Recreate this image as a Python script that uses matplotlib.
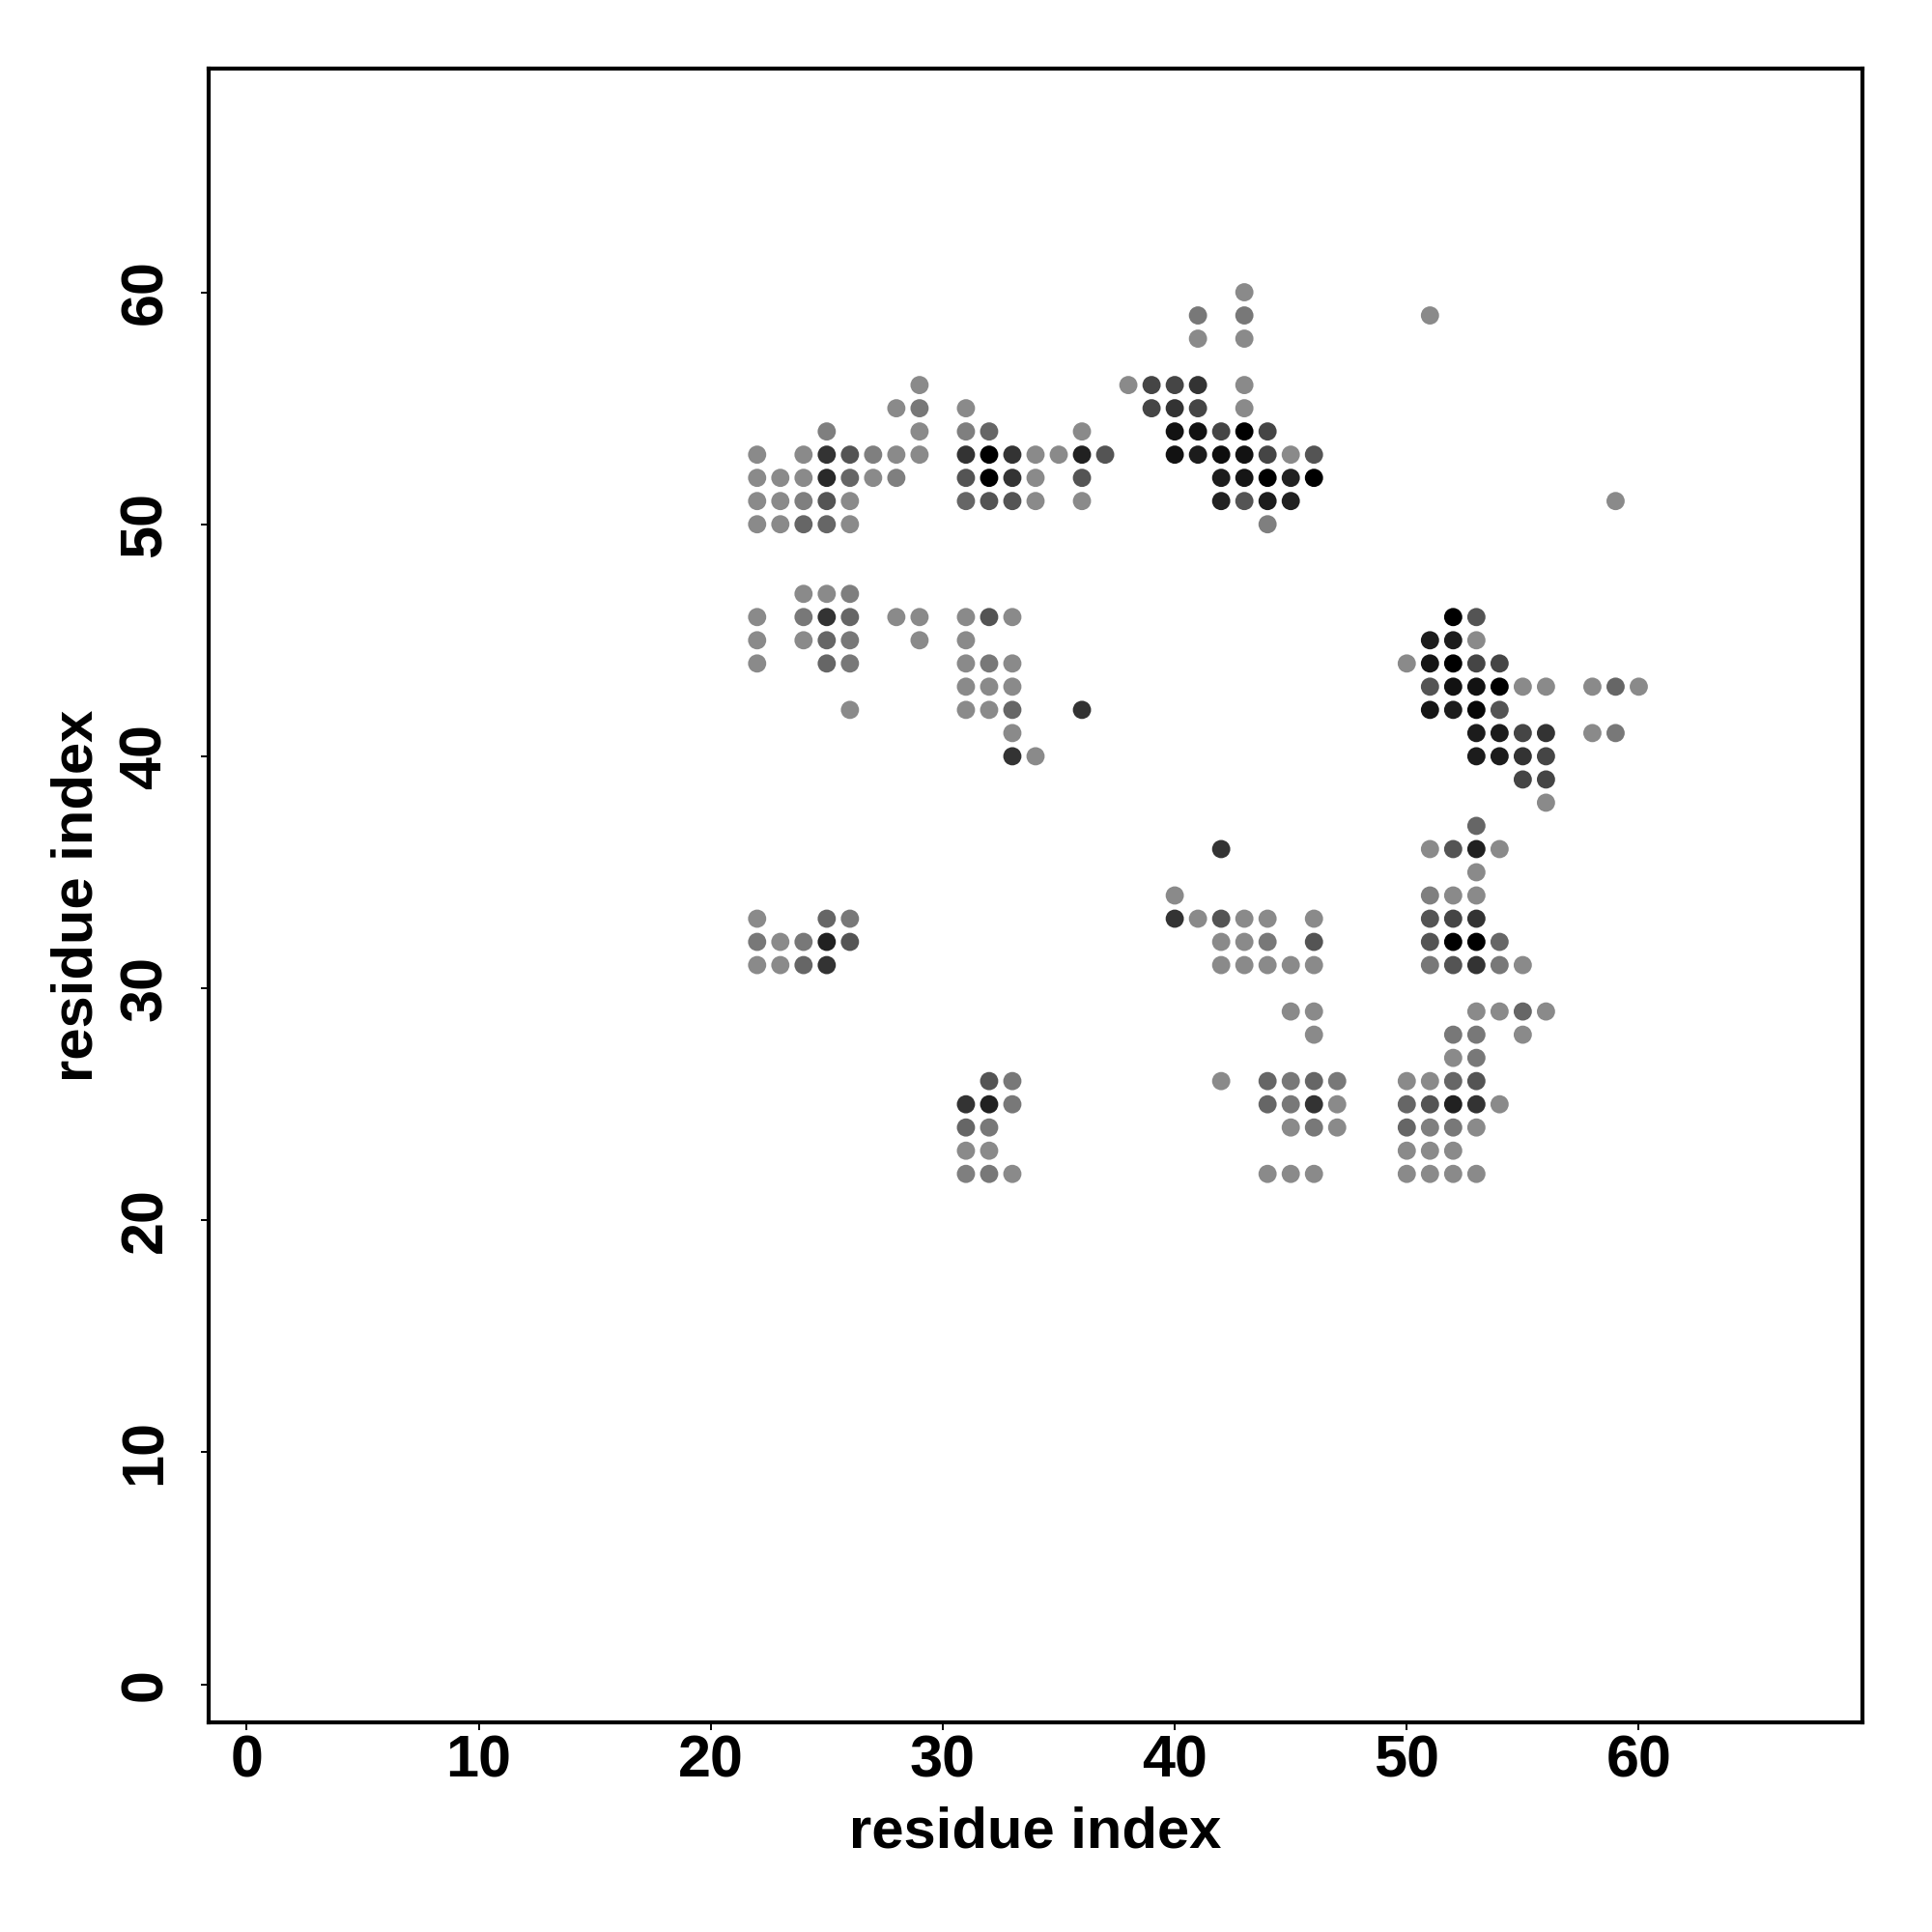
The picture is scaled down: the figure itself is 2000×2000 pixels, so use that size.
import matplotlib
matplotlib.use("Agg")
import matplotlib.pyplot as plt

plt.rcParams['font.family'] = ['Liberation Sans', 'DejaVu Sans']
plt.rcParams['font.weight'] = 'bold'

# contact map: residue i, residue j, contact strength (0 = weak, 1 = strong)
res_x = [
    43,
    41, 43, 51,
    41, 43,
    29, 38, 39, 40, 41, 43,
    28, 29, 31, 39, 40, 41, 43,
    25, 29, 31, 32, 36, 40, 41, 42, 43, 44,
    22, 24, 25, 26, 27, 28, 29, 31, 32, 33, 34, 35, 36, 37, 40, 41, 42, 43, 44, 45, 46,
    22, 23, 24, 25, 26, 27, 28, 31, 32, 33, 34, 36, 42, 43, 44, 45, 46,
    22, 23, 24, 25, 26, 31, 32, 33, 34, 36, 42, 43, 44, 45, 59,
    22, 23, 24, 25, 26, 44,
    24, 25, 26,
    22, 24, 25, 26, 28, 29, 31, 32, 33, 52, 53,
    22, 24, 25, 26, 29, 31, 51, 52, 53,
    22, 25, 26, 31, 32, 33, 50, 51, 52, 53, 54,
    31, 32, 33, 51, 52, 53, 54, 55, 56, 58, 59, 60,
    26, 31, 32, 33, 36, 51, 52, 53, 54,
    33, 53, 54, 55, 56, 58, 59,
    33, 34, 53, 54, 55, 56,
    55, 56,
    56,
    53,
    42, 51, 52, 53, 54,
    53,
    40, 51, 52, 53,
    22, 25, 26, 40, 41, 42, 43, 44, 46, 51, 52, 53,
    22, 23, 24, 25, 26, 42, 43, 44, 46, 51, 52, 53, 54,
    22, 23, 24, 25, 42, 43, 44, 45, 46, 51, 52, 53, 54, 55,
    45, 46, 53, 54, 55, 56,
    46, 52, 53, 55,
    52, 53,
    32, 33, 42, 44, 45, 46, 47, 50, 51, 52, 53,
    31, 32, 33, 44, 45, 46, 47, 50, 51, 52, 53, 54,
    31, 32, 45, 46, 47, 50, 51, 52, 53,
    31, 32, 50, 51, 52,
    31, 32, 33, 44, 45, 46, 50, 51, 52, 53,
]

res_y = (
    [60] * 1 + [59] * 3 + [58] * 2 + [56] * 6 + [55] * 7 + [54] * 10
    + [53] * 21 + [52] * 17 + [51] * 15 + [50] * 6 + [47] * 3 + [46] * 11
    + [45] * 9 + [44] * 11 + [43] * 12 + [42] * 9 + [41] * 7 + [40] * 6
    + [39] * 2 + [38] * 1 + [37] * 1 + [36] * 5 + [35] * 1 + [34] * 4
    + [33] * 12 + [32] * 13 + [31] * 14 + [29] * 6 + [28] * 4 + [27] * 2
    + [26] * 11 + [25] * 12 + [24] * 9 + [23] * 5 + [22] * 10
)

strength = [
    0.0,
    0.13, 0.13, 0.0,
    0.0, 0.0,
    0.0, 0.0, 0.5, 0.5, 0.63, 0.0,
    0.0, 0.13, 0.0, 0.5, 0.63, 0.5, 0.0,
    0.08, 0.0, 0.08, 0.26, 0.0, 0.87, 0.87, 0.5, 1.0, 0.5,
    0.0, 0.0, 0.63, 0.39, 0.08, 0.0, 0.0, 0.63, 1.0, 0.63, 0.0, 0.0, 0.76, 0.39, 0.87, 0.8, 0.9, 0.87, 0.5, 0.0, 0.39,
    0.0, 0.0, 0.0, 0.7, 0.26, 0.0, 0.08, 0.39, 1.0, 0.63, 0.0, 0.39, 0.8, 0.85, 1.0, 0.76, 1.0,
    0.0, 0.0, 0.08, 0.39, 0.0, 0.26, 0.39, 0.39, 0.0, 0.0, 0.76, 0.39, 0.8, 0.76, 0.0,
    0.0, 0.0, 0.26, 0.26, 0.0, 0.08,
    0.0, 0.0, 0.08,
    0.0, 0.13, 0.63, 0.26, 0.0, 0.0, 0.0, 0.39, 0.0, 1.0, 0.39,
    0.0, 0.0, 0.26, 0.13, 0.0, 0.0, 0.8, 0.8, 0.0,
    0.0, 0.26, 0.13, 0.0, 0.13, 0.0, 0.0, 0.85, 1.0, 0.5, 0.5,
    0.0, 0.0, 0.0, 0.39, 0.87, 0.87, 1.0, 0.0, 0.0, 0.0, 0.26, 0.0,
    0.0, 0.0, 0.0, 0.26, 0.63, 0.85, 0.8, 0.95, 0.39,
    0.0, 0.8, 0.8, 0.5, 0.63, 0.0, 0.13,
    0.63, 0.0, 0.8, 0.8, 0.63, 0.5,
    0.5, 0.5,
    0.0,
    0.26,
    0.63, 0.0, 0.39, 0.76, 0.0,
    0.0,
    0.0, 0.08, 0.0, 0.0,
    0.0, 0.26, 0.13, 0.63, 0.0, 0.39, 0.0, 0.0, 0.0, 0.39, 0.5, 0.63,
    0.13, 0.0, 0.13, 0.76, 0.39, 0.0, 0.0, 0.13, 0.39, 0.39, 1.0, 1.0, 0.26,
    0.0, 0.0, 0.26, 0.63, 0.0, 0.0, 0.0, 0.0, 0.0, 0.13, 0.39, 0.63, 0.13, 0.0,
    0.0, 0.0, 0.0, 0.0, 0.26, 0.0,
    0.0, 0.13, 0.13, 0.0,
    0.0, 0.13,
    0.39, 0.13, 0.0, 0.26, 0.13, 0.26, 0.13, 0.0, 0.0, 0.26, 0.39,
    0.63, 0.76, 0.13, 0.26, 0.13, 0.63, 0.0, 0.26, 0.39, 0.76, 0.63, 0.0,
    0.26, 0.13, 0.0, 0.13, 0.0, 0.26, 0.08, 0.13, 0.0,
    0.0, 0.0, 0.0, 0.0, 0.0,
    0.08, 0.13, 0.0, 0.0, 0.0, 0.0, 0.0, 0.0, 0.0, 0.0,
]

# strong contacts black, weak ones mid grey
colors = [str(round(0.54 * (1 - s), 3)) for s in strength]

fig = plt.figure(figsize=(10, 10), dpi=200)
ax = fig.add_axes([216 / 2000, 217 / 2000, 1712 / 2000, 1712 / 2000])

ax.scatter(res_x, res_y, s=46, c=colors, linewidths=0)

ax.set_xlim(-1.64, 69.64)
ax.set_ylim(-1.64, 69.64)
ax.set_xticks(range(0, 61, 10))
ax.set_yticks(range(0, 61, 10))

for sp in ax.spines.values():
    sp.set_linewidth(1.5)

ax.tick_params(axis='both', direction='out', length=3, width=0.7, labelsize=22)
ax.tick_params(axis='x', pad=1.5)
ax.tick_params(axis='y', pad=10)
for lab in ax.get_yticklabels():
    lab.set_rotation(90)
    lab.set_va('center')

ax.set_xlabel("residue index", fontsize=21.5, fontweight='bold', labelpad=6)
ax.set_ylabel("residue index", fontsize=21.5, fontweight='bold', labelpad=5.5)

plt.savefig("out.png", dpi=200)
plt.close()
